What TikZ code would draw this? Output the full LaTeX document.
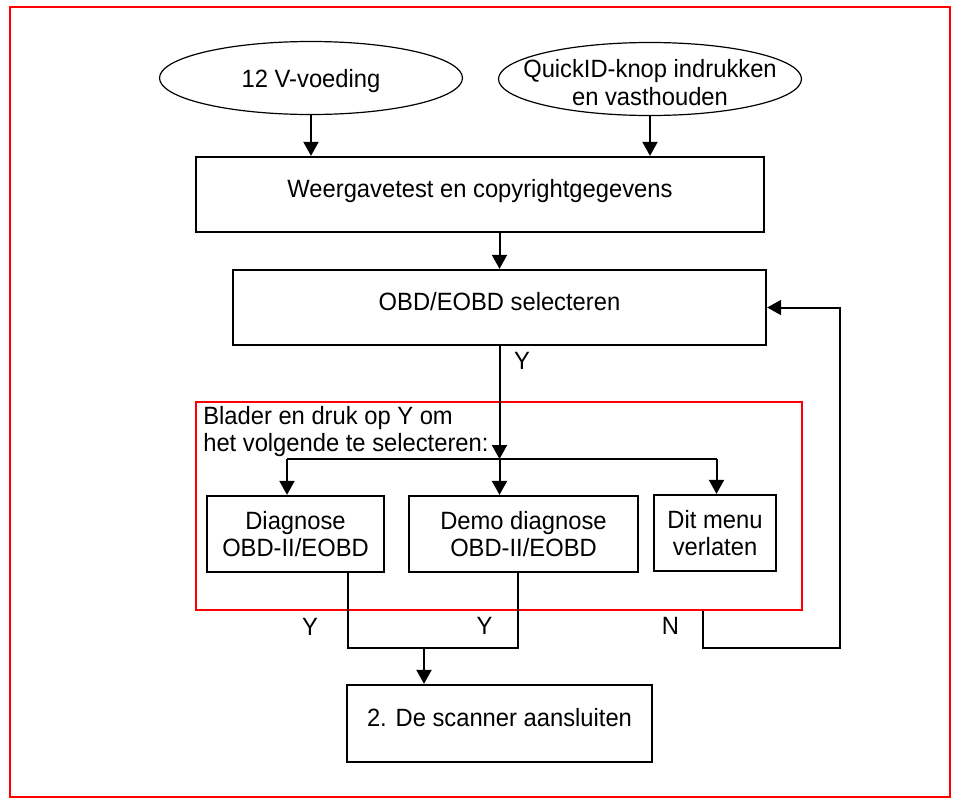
\documentclass[tikz,border=0pt]{standalone}
\usepackage{fontspec}
\setmainfont[FakeStretch=0.95]{Liberation Sans}
\usetikzlibrary{arrows.meta,shapes.geometric}

\begin{document}
\begin{tikzpicture}[x=1pt,y=-1pt,font=\fontsize{25}{27.5}\selectfont,
    blok/.style={draw,line width=2.3pt,inner sep=0pt,align=center},
    eenregel/.style={blok,text height=17pt,text depth=11pt},
    tweeregel/.style={blok,execute at begin node=\rule{0pt}{23pt}},
    ovaal/.style={draw,ellipse,line width=1.2pt,inner sep=0pt,minimum width=303pt,minimum height=73pt},
    pijl/.style={line width=2pt,-{Triangle[width=15pt,length=14pt]}},
    lijn/.style={line width=2pt}]
      \useasboundingbox (0,0) rectangle (953,801);
      \draw[red,line width=2.5pt] (10,7) rectangle (950,797);
      \node[ovaal] (voeding) at (311,78) {};
      \node[align=center,inner sep=0pt] (voedingtekst) at ([yshift=-3.5pt]voeding.center) {12 V-voeding};
      \node[ovaal] (quickid) at (650,79) {};
      \node[align=center,inner sep=0pt] (quickidtekst) at ([yshift=-3.5pt]quickid.center) {QuickID-knop indrukken\\en vasthouden};
      \node[eenregel,minimum width=568pt,minimum height=75pt] (weergave) at (480,194.5) {Weergavetest en copyrightgegevens};
      \node[eenregel,minimum width=533pt,minimum height=75pt] (obd) at (499.5,307.5) {OBD/EOBD selecteren};
      \node[draw=red,line width=1.8pt,inner sep=0pt,minimum width=606pt,minimum height=208pt] (keuze) at (499,506) {};
      \node[anchor=north west,align=left,inner sep=0pt] (uitleg) at ([shift={(8,5)}]keuze.north west) {Blader en druk op Y om\\het volgende te selecteren:};
      \node[tweeregel,minimum width=177pt,minimum height=76pt] (diag) at (295.5,534) {Diagnose\\OBD-II/EOBD};
      \node[tweeregel,minimum width=229pt,minimum height=76pt] (demo) at (523.5,534) {Demo diagnose\\OBD-II/EOBD};
      \node[blok,minimum width=122pt,minimum height=76pt] (verlaten) at (715,533) {Dit menu\\verlaten};
      \node[eenregel,minimum width=305pt,minimum height=77pt] (scanner) at (499.5,723.5) {2. De scanner aansluiten};
      \coordinate (splits) at (499.5,459);
      \coordinate (samen) at (424,648);
      \coordinate (nterug) at (703,611);
      \coordinate (hoek) at (840,648);
      \draw[pijl] (voeding.south) -- (voeding.south |- weergave.north);
      \draw[pijl] (quickid.south) -- (quickid.south |- weergave.north);
      \draw[pijl] (obd.north |- weergave.south) -- (obd.north);
      \draw[pijl] (obd.south) -- (splits);
      \draw[lijn] ([xshift=-8.5pt]diag.north |- splits) -- ([xshift=1.5pt]verlaten.north |- splits);
      \draw[pijl] ([xshift=-8.5pt]diag.north |- splits) -- ([xshift=-8.5pt]diag.north);
      \draw[pijl] (splits) -- (demo.north -| splits);
      \draw[pijl] ([xshift=1.5pt]verlaten.north |- splits) -- ([xshift=1.5pt]verlaten.north);
      \draw[lijn] ([xshift=52.5pt]diag.south) |- (samen) -| ([xshift=-5.5pt]demo.south);
      \draw[pijl] (samen) -- (samen |- scanner.north);
      \draw[pijl] (nterug) |- (hoek) |- (obd.east);
      \foreach \naam/\pos/\tekst in {ja1/{(522,361)}/Y,ja2/{(310,627)}/Y,ja3/{(484.5,626)}/Y,nee/{(670.5,626)}/N}{
        \node[inner sep=0pt] (\naam) at \pos {\tekst};
      }
    \end{tikzpicture}
\end{document}
